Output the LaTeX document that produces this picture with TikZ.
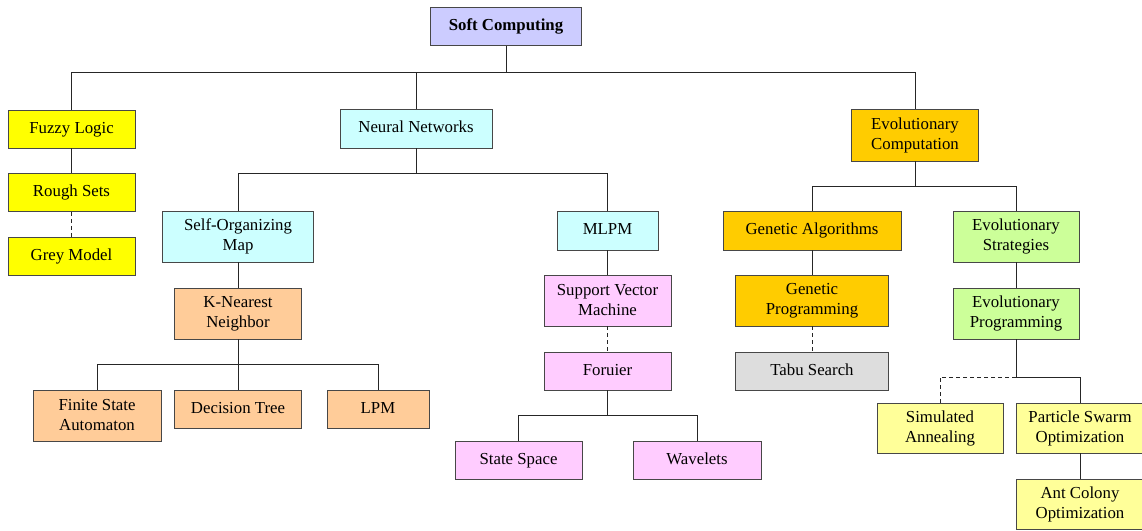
\documentclass[tikz,border=0pt]{standalone}
\usepackage{fontspec}
\setmainfont{Liberation Serif}
\begin{document}
\begin{tikzpicture}[x=1pt,y=-1pt,
  box/.style={draw=black!72, line width=0.9pt, inner sep=0pt, align=center,
    font=\fontsize{16.8}{20}\selectfont},
  one/.style={text height=11.5pt, text depth=3.5pt},
  link/.style={draw=black!85, line width=0.8pt},
  dlink/.style={link, dashed, dash pattern=on 4pt off 3pt}]
\definecolor{cLav}{HTML}{CCCCFF}
\definecolor{cYel}{HTML}{FFFF00}
\definecolor{cCyan}{HTML}{CCFFFF}
\definecolor{cOrange}{HTML}{FFCC00}
\definecolor{cGreen}{HTML}{CCFF99}
\definecolor{cPeach}{HTML}{FFCC99}
\definecolor{cPink}{HTML}{FFCCFF}
\definecolor{cGrey}{HTML}{DDDDDD}
\definecolor{cPale}{HTML}{FFFF99}
\useasboundingbox (0,0) rectangle (1142,530);

% root
\node[box, one, fill=cLav, minimum width=151pt, minimum height=38pt,
  font=\fontsize{16.8}{20}\selectfont\bfseries] (sc) at (506,26.5) {Soft Computing};

% fuzzy branch
\node[box, one, fill=cYel, minimum width=127pt, minimum height=38pt] (fl) at (71.5,129) {Fuzzy Logic};
\node[box, one, fill=cYel, minimum width=127pt, minimum height=38pt] (rs) at (71.5,192.5) {Rough Sets};
\node[box, one, fill=cYel, minimum width=127pt, minimum height=38pt] (gm) at (71.5,256) {Grey Model};

% neural branch
\node[box, one, fill=cCyan, minimum width=152pt, minimum height=39pt] (nn) at (416,128.5) {Neural Networks};
\node[box, fill=cCyan, minimum width=151pt, minimum height=51pt] (som) at (238,236.5) {Self-Organizing\\Map};
\node[box, one, fill=cCyan, minimum width=101pt, minimum height=39pt] (mlpm) at (607.5,230.5) {MLPM};
\node[box, fill=cPeach, minimum width=127pt, minimum height=51pt] (knn) at (238,313.5) {K-Nearest\\Neighbor};
\node[box, fill=cPeach, minimum width=128pt, minimum height=51pt] (fsa) at (97,415.5) {Finite State\\Automaton};
\node[box, one, fill=cPeach, minimum width=127pt, minimum height=38pt] (dt) at (238,409) {Decision Tree};
\node[box, one, fill=cPeach, minimum width=102pt, minimum height=38pt] (lpm) at (378,409) {LPM};
\node[box, fill=cPink, minimum width=127pt, minimum height=51pt] (svm) at (607.5,300.5) {Support Vector\\Machine};
\node[box, one, fill=cPink, minimum width=127pt, minimum height=38pt] (fou) at (607.5,371) {Foruier};
\node[box, one, fill=cPink, minimum width=127pt, minimum height=38pt] (ss) at (518.5,460) {State Space};
\node[box, one, fill=cPink, minimum width=128pt, minimum height=38pt] (wav) at (697,460) {Wavelets};

% evolutionary branch
\node[box, fill=cOrange, minimum width=127pt, minimum height=52pt] (ec) at (915,135) {Evolutionary\\Computation};
\node[box, one, fill=cOrange, minimum width=178pt, minimum height=39pt] (ga) at (812,230.5) {Genetic Algorithms};
\node[box, fill=cOrange, minimum width=153pt, minimum height=51pt] (gp) at (812,300.5) {Genetic\\Programming};
\node[box, one, fill=cGrey, minimum width=153pt, minimum height=38pt] (tabu) at (812,371) {Tabu Search};
\node[box, fill=cGreen, minimum width=126pt, minimum height=51pt] (es) at (1016,236.5) {Evolutionary\\Strategies};
\node[box, fill=cGreen, minimum width=126pt, minimum height=51pt] (ep) at (1016,313.5) {Evolutionary\\Programming};
\node[box, fill=cPale, minimum width=126pt, minimum height=50pt] (sa) at (940,428) {Simulated\\Annealing};
\node[box, fill=cPale, minimum width=128pt, minimum height=50pt] (pso) at (1080,428) {Particle Swarm\\Optimization};
\node[box, fill=cPale, minimum width=128pt, minimum height=50pt] (aco) at (1080,504) {Ant Colony\\Optimization};

% connectors
\draw[link] (sc.south) -- ++(0,26) -| (fl.north);
\draw[link] (sc.south) -- ++(0,26) -| (nn.north);
\draw[link] (sc.south) -- ++(0,26) -| (ec.north);

\draw[link] (fl.south) -- (rs.north);
\draw[dlink] (rs.south) -- (gm.north);

\draw[link] (nn.south) -- ++(0,25) -| (som.north);
\draw[link] (nn.south) -- ++(0,25) -| (mlpm.north);
\draw[link] (som.south) -- (knn.north);
\draw[link] (knn.south) -- ++(0,25) -| (fsa.north);
\draw[link] (knn.south) -- (dt.north);
\draw[link] (knn.south) -- ++(0,25) -| (lpm.north);
\draw[link] (mlpm.south) -- (svm.north);
\draw[dlink] (svm.south) -- (fou.north);
\draw[link] (fou.south) -- ++(0,25) -| (ss.north);
\draw[link] (fou.south) -- ++(0,25) -| (wav.north);

\draw[link] (ec.south) -- ++(0,25) -| (ga.north);
\draw[link] (ec.south) -- ++(0,25) -| (es.north);
\draw[link] (ga.south) -- (gp.north);
\draw[dlink] (gp.south) -- (tabu.north);
\draw[link] (es.south) -- (ep.north);
\draw[link] (ep.south) -- ++(0,38) -| (pso.north);
\draw[dlink] (ep.south) ++(0,38) -| (sa.north);
\draw[link] (pso.south) -- (aco.north);
\end{tikzpicture}
\end{document}
